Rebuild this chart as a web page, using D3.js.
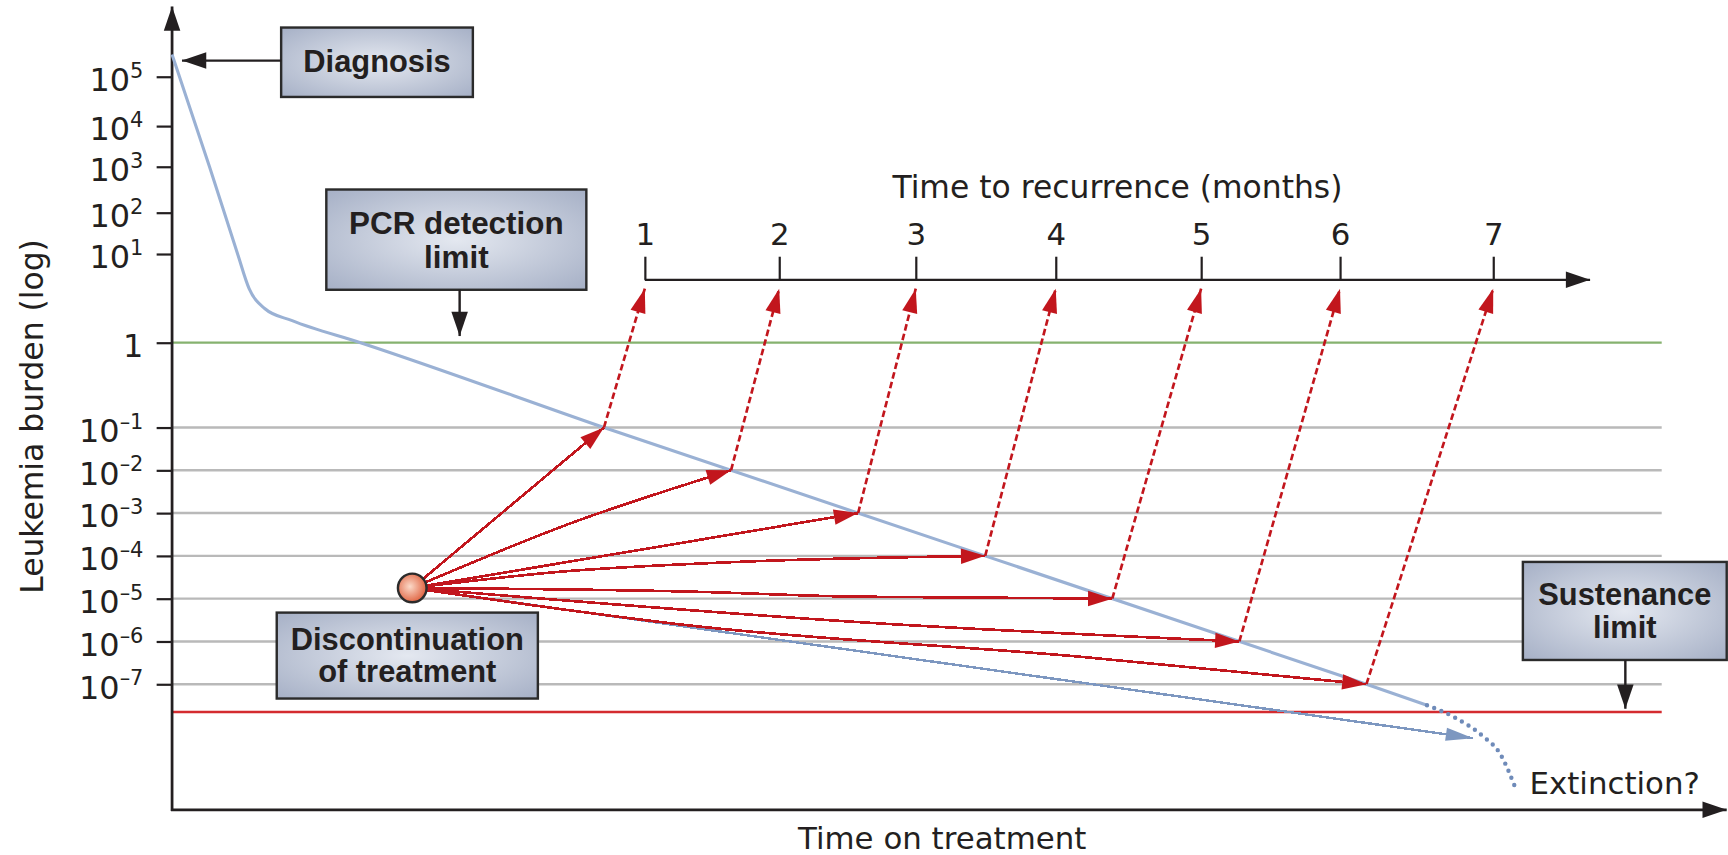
<!DOCTYPE html>
<html>
<head>
<meta charset="utf-8">
<script src="https://cdnjs.cloudflare.com/ajax/libs/d3/7.8.5/d3.min.js"></script>
<style>
  html, body { margin: 0; padding: 0; background: #ffffff; overflow: hidden; }
  svg { display: block; }
  text { font-family: "DejaVu Sans", sans-serif; fill: #231f20; }
  .boxlabel { font-family: "Liberation Sans", Arial, sans-serif; font-weight: bold; }
</style>
</head>
<body>
<svg id="chart"></svg>
<script>
// Leukemia burden on a log scale (powers of ten)
const yTickExponents = [5, 4, 3, 2, 1, 0, -1, -2, -3, -4, -5, -6, -7];
const gridExponents = [-1, -2, -3, -4, -5, -6, -7];
const pcrLimitExponent = 0;
const sustenanceLimitExponent = -7.65;

// Response to treatment: time on treatment (arbitrary units) and log10 burden
const responseTime = [0, 0.241, 0.422, 0.496, 0.596, 0.773, 1.213, 2.780, 7.688, 8.078];
const responseLog  = [5.45, 3, 1, 0.61, 0.385, 0.248, 0, -1, -7, -7.49];

// Possible further decline below the sustenance limit
const extinctionTime = [8.078, 8.246, 8.44, 8.546, 8.652];
const extinctionLog  = [-7.49, -7.757, -8.223, -8.61, -9.47];

// Treatment stopped here
const stopTime = 1.546;
const stopLog = -4.75;

// Residual disease after stopping: each path meets the response line at one decade
const relapseLevels  = [-1, -2, -3, -4, -5, -6, -7];
const relapseMidTime = [[], [2.58], [3.078], [2.489, 3.638], [3.348, 4.383], [2.199, 4.496], [3.348, 5.844]];
const relapseMidLog  = [[], [-3.22], [-3.82], [-4.374, -4.142], [-4.837, -4.953], [-4.946, -5.566], [-5.634, -6.357]];

// Path that falls below the sustenance limit
const driftTime = [1.546, 8.376];
const driftLog  = [-4.75, -8.26];

// Time to recurrence axis
const months = [1, 2, 3, 4, 5, 6, 7];
const monthTickTime = [3.043, 3.908, 4.787, 5.688, 6.624, 7.518, 8.504];

// ---------------------------------------------------------------
const W = 1568, H = 776;
const svg = d3.select("#chart")
  .attr("width", 1728).attr("height", 855)
  .attr("viewBox", `0 0 ${W} ${H}`);

const x = d3.scaleLinear().domain([0, 10]).range([156, 1566]);
const y = d3.scaleLinear()
  .domain([5, 4, 3, 2, 1, 0, -1, -7])
  .range([69.6, 114.4, 151.3, 193, 230.5, 311, 388, 621]);

const axisY = 735;          // baseline of the time-on-treatment axis
const gridRight = 1508;     // right end of the horizontal guide lines
const recAxisY = 254;       // time-to-recurrence axis
const ink = "#231f20";
const red = "#c2161d";
const blue = "#9ab1d4";
const blueDark = "#7d97c0";

// ---- defs: arrowheads and gradients
const defs = svg.append("defs");
function marker(id, color, len, hw) {
  defs.append("marker")
    .attr("id", id)
    .attr("markerUnits", "userSpaceOnUse")
    .attr("orient", "auto")
    .attr("refX", 0).attr("refY", 0)
    .attr("markerWidth", len + 4).attr("markerHeight", 2 * hw + 4)
    .attr("viewBox", `${-len - 2} ${-hw - 2} ${len + 4} ${2 * hw + 4}`)
    .append("path")
    .attr("d", `M0,0L${-len},${-hw}L${-len},${hw}Z`)
    .attr("fill", color);
}
marker("arrowBlack", ink, 22, 7.5);
marker("arrowRed", red, 22, 7);
marker("arrowBlue", blueDark, 25, 6);

const boxGrad = defs.append("radialGradient").attr("id", "boxFill")
  .attr("cx", "50%").attr("cy", "50%").attr("r", "70%");
boxGrad.append("stop").attr("offset", "0%").attr("stop-color", "#e4e8f0");
boxGrad.append("stop").attr("offset", "100%").attr("stop-color", "#a6b0c6");

const dotGrad = defs.append("radialGradient").attr("id", "dotFill")
  .attr("cx", "42%").attr("cy", "45%").attr("r", "60%");
dotGrad.append("stop").attr("offset", "0%").attr("stop-color", "#fbd9c8");
dotGrad.append("stop").attr("offset", "100%").attr("stop-color", "#df5f3c");

// ---- horizontal guide lines
svg.append("g").selectAll("line").data(gridExponents).join("line")
  .attr("x1", x(0)).attr("x2", gridRight)
  .attr("y1", d => y(d)).attr("y2", d => y(d))
  .attr("stroke", "#b9b9b9").attr("stroke-width", 2.2);

svg.append("line")
  .attr("x1", x(0)).attr("x2", gridRight)
  .attr("y1", y(pcrLimitExponent)).attr("y2", y(pcrLimitExponent))
  .attr("stroke", "#86b26f").attr("stroke-width", 2.2);

svg.append("line")
  .attr("x1", x(0)).attr("x2", gridRight)
  .attr("y1", y(sustenanceLimitExponent)).attr("y2", y(sustenanceLimitExponent))
  .attr("stroke", "#d42b2f").attr("stroke-width", 2.2);

// ---- y axis with ticks and power-of-ten labels
const yAxis = svg.append("g")
  .attr("transform", `translate(${x(0)},0)`)
  .call(d3.axisLeft(y).tickValues(yTickExponents).tickSize(14).tickFormat(""));
yAxis.select(".domain").remove();
yAxis.selectAll(".tick line").attr("stroke", ink).attr("stroke-width", 2);
yAxis.selectAll(".tick").each(function (e) {
  const t = d3.select(this).append("text")
    .attr("x", -26).attr("y", 12.5)
    .attr("text-anchor", "end")
    .attr("font-size", 29)
    .style("fill", ink);
  if (e === 0) {
    t.text("1");
  } else {
    t.append("tspan").text("10");
    t.append("tspan").attr("dy", -12).attr("font-size", 19)
      .text(e < 0 ? "\u2013" + Math.abs(e) : String(e));
  }
});

// axis lines with arrowheads
svg.append("line")
  .attr("x1", x(0)).attr("y1", axisY + 1).attr("x2", x(0)).attr("y2", 6)
  .attr("stroke", ink).attr("stroke-width", 2.5)
  .attr("marker-end", "url(#arrowBlack)");
svg.append("line")
  .attr("x1", x(0) - 1).attr("y1", axisY).attr("x2", 1567).attr("y2", axisY)
  .attr("stroke", ink).attr("stroke-width", 2.5)
  .attr("marker-end", "url(#arrowBlack)");

svg.append("text")
  .attr("transform", `translate(39,378) rotate(-90)`)
  .attr("text-anchor", "middle")
  .attr("font-size", 28.5)
  .text("Leukemia burden (log)");

svg.append("text")
  .attr("x", 855).attr("y", 771)
  .attr("text-anchor", "middle")
  .attr("font-size", 28)
  .text("Time on treatment");

// ---- response line
const line = d3.line().x(d => x(d[0])).y(d => y(d[1])).curve(d3.curveMonotoneX);
const response = responseTime.map((t, i) => [t, responseLog[i]]);
svg.append("path")
  .attr("d", line(response))
  .attr("fill", "none").attr("stroke", blue).attr("stroke-width", 2.8);

const extinction = extinctionTime.map((t, i) => [t, extinctionLog[i]]);
svg.append("path")
  .attr("d", line(extinction))
  .attr("fill", "none").attr("stroke", "#6f8bb9").attr("stroke-width", 4)
  .attr("stroke-linecap", "round").attr("stroke-dasharray", "0 7");

// time on treatment at which the response line reaches a given level
const timeAtLevel = d3.scaleLinear().domain(responseLog).range(responseTime);

// ---- time to recurrence axis
const mScale = d3.scaleLinear().domain(months).range(monthTickTime.map(x));
const recEnd = 1443;
svg.append("line")
  .attr("x1", mScale(1)).attr("y1", recAxisY).attr("x2", recEnd).attr("y2", recAxisY)
  .attr("stroke", ink).attr("stroke-width", 2.2)
  .attr("marker-end", "url(#arrowBlack)");
const mAxis = svg.append("g")
  .attr("transform", `translate(0,${recAxisY})`)
  .call(d3.axisTop(mScale).tickValues(months).tickSize(21).tickPadding(11).tickFormat(d3.format("d")));
mAxis.select(".domain").remove();
mAxis.selectAll(".tick line").attr("stroke", ink).attr("stroke-width", 2);
mAxis.selectAll(".tick text")
  .attr("font-size", 28).attr("font-family", "DejaVu Sans, sans-serif").style("fill", ink);
svg.append("text")
  .attr("x", (mScale(1) + recEnd) / 2).attr("y", 180)
  .attr("text-anchor", "middle")
  .attr("font-size", 28.5)
  .text("Time to recurrence (months)");

// ---- drift path below the sustenance limit
const drift = driftTime.map((t, i) => [t, driftLog[i]]);
svg.append("path")
  .attr("d", line(drift))
  .attr("fill", "none").attr("stroke", blueDark).attr("stroke-width", 2.2)
  .attr("shape-rendering", "crispEdges")
  .attr("marker-end", "url(#arrowBlue)");

// ---- relapse paths and their recurrence arrows
relapseLevels.forEach((lvl, i) => {
  const endT = timeAtLevel(lvl);
  const pts = [[stopTime, stopLog]]
    .concat(relapseMidTime[i].map((t, j) => [t, relapseMidLog[i][j]]))
    .concat([[endT, lvl]]);
  svg.append("path")
    .attr("d", line(pts))
    .attr("fill", "none").attr("stroke", red).attr("stroke-width", 2.4)
    .attr("shape-rendering", "crispEdges")
    .attr("marker-end", "url(#arrowRed)");

  svg.append("line")
    .attr("x1", x(endT)).attr("y1", y(lvl))
    .attr("x2", mScale(months[i])).attr("y2", recAxisY + 8)
    .attr("stroke", red).attr("stroke-width", 2.4)
    .attr("stroke-dasharray", "6 3")
    .attr("marker-end", "url(#arrowRed)");
});

// ---- discontinuation marker
svg.append("circle")
  .attr("cx", x(stopTime)).attr("cy", y(stopLog)).attr("r", 13)
  .attr("fill", "url(#dotFill)").attr("stroke", "#2b2b2b").attr("stroke-width", 2.2);

// ---- callout boxes
function callout(x0, y0, w, h, lines, baselines, fs) {
  const g = svg.append("g");
  g.append("rect").attr("x", x0).attr("y", y0).attr("width", w).attr("height", h)
    .attr("fill", "url(#boxFill)").attr("stroke", "#2b2b2b").attr("stroke-width", 2.2);
  lines.forEach((s, i) => {
    g.append("text").attr("class", "boxlabel")
      .attr("x", x0 + w / 2).attr("y", baselines[i])
      .attr("text-anchor", "middle").attr("font-size", fs)
      .text(s);
  });
}
function pointer(x1, y1, x2, y2) {
  svg.append("line")
    .attr("x1", x1).attr("y1", y1).attr("x2", x2).attr("y2", y2)
    .attr("stroke", ink).attr("stroke-width", 2.2)
    .attr("marker-end", "url(#arrowBlack)");
}

callout(255, 25, 174, 63, ["Diagnosis"], [65], 28);
pointer(255, 55, x(0) + 9, 55);

callout(296, 172, 236, 91, ["PCR detection", "limit"], [212, 243], 28.5);
pointer(417, 263, 417, y(pcrLimitExponent) - 6);

callout(251, 556, 237, 78, ["Discontinuation", "of treatment"], [590, 619], 28);

callout(1382, 510, 185, 89, ["Sustenance", "limit"], [549, 579], 28);
pointer(1475, 599, 1475, y(sustenanceLimitExponent) - 3);

svg.append("text")
  .attr("x", 1388).attr("y", 721)
  .attr("font-size", 28)
  .text("Extinction?");
</script>
</body>
</html>
